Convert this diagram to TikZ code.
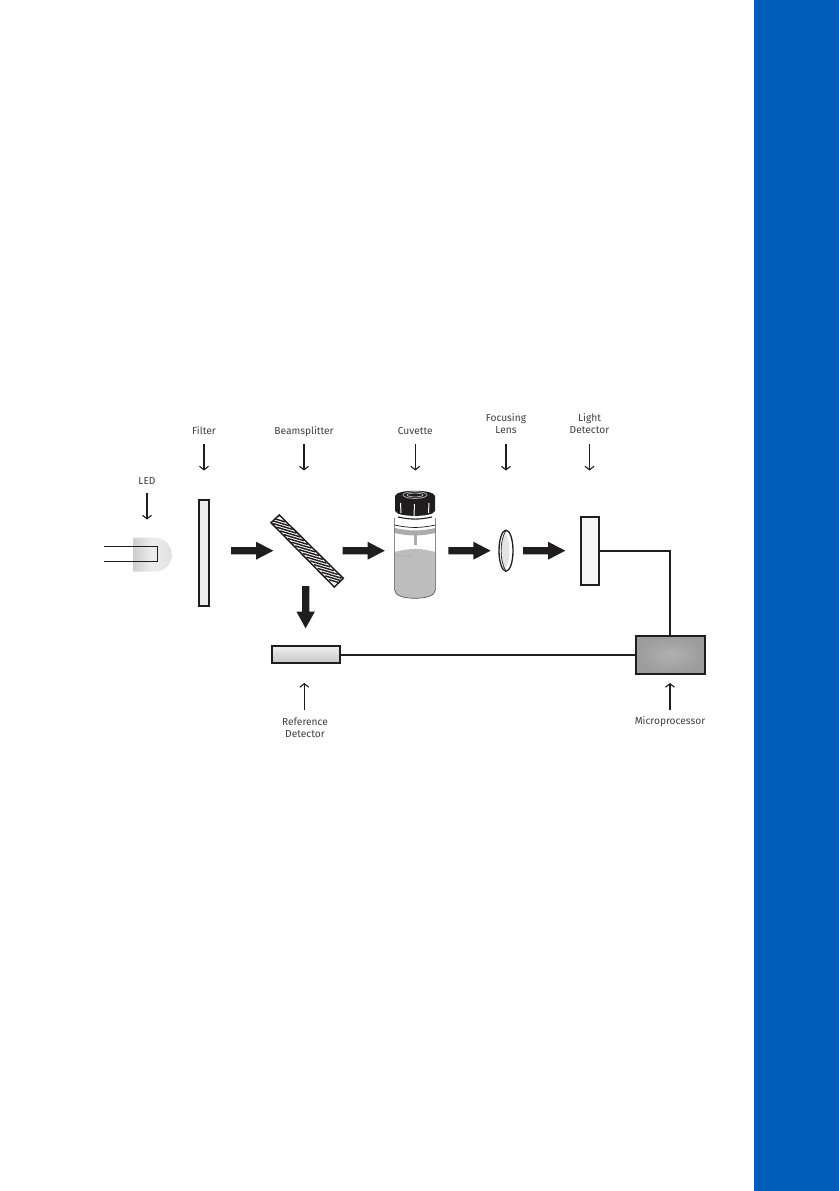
\documentclass[tikz,border=0pt]{standalone}
\usepackage{fontspec}
\setmainfont{Fira Sans}
\usetikzlibrary{arrows.meta}
\definecolor{sidebar}{HTML}{005EB8}
\definecolor{ink}{HTML}{1F1D1E}
\tikzset{
  x=1pt,y=-1pt,
  lab/.style={font=\fontsize{10.2}{12}\selectfont,text=ink!85,align=center,inner sep=0pt},
  pointer/.style={draw=ink,line width=1.1pt,-{Straight Barb[length=3.5pt,width=9pt,line width=1.1pt]}},
  wire/.style={draw=ink,line width=1.8pt},
  frame/.style={draw=ink,line width=1.8pt},
}
\newcommand{\blockR}[2]{% start x, y
  \fill[ink] (#1,#2-3.7) -- ++(25,0) -- ++(0,-5.3) -- ++(17.3,9) -- ++(-17.3,9) -- ++(0,-5.3) -- ++(-25,0) -- cycle;}
\begin{document}
\begin{tikzpicture}
\useasboundingbox (0,0) rectangle (839,1191);
\fill[white] (0,0) rectangle (839,1191);
\fill[sidebar] (754,0) rectangle (839,1191);

% labels and pointers
\node[lab] (tLED) at (147,481) {LED};
\node[lab] (tFilter) at (204,430.5) {Filter};
\node[lab] (tBeam) at (304,431.3) {Beamsplitter};
\node[lab] (tCuv) at (415.3,430.5) {Cuvette};
\node[lab] (tLens) at (506,424) {Focusing\\Lens};
\node[lab] (tLight) at (589.5,424) {Light\\Detector};
\node[lab] (tRef) at (305,728) {Reference\\Detector};
\node[lab] (tMicro) at (670,722) {Microprocessor};

\coordinate (aLED) at (147,519.5);
\coordinate (aFilter) at (204,470.5);
\coordinate (aBeam) at (304,470.5);
\coordinate (aCuv) at (415.3,470.5);
\coordinate (aLens) at (506,470.5);
\coordinate (aLight) at (589.5,470.5);
\coordinate (aRef) at (304.3,683);
\coordinate (aMicro) at (670,683);
\draw[pointer] (147,492.5) -- (aLED);
\draw[pointer] (204,444) -- (aFilter);
\draw[pointer] (304,444) -- (aBeam);
\draw[pointer] (415.3,444) -- (aCuv);
\draw[pointer] (506,444) -- (aLens);
\draw[pointer] (589.5,444) -- (aLight);
\draw[pointer] (304.3,709.5) -- (aRef);
\draw[pointer] (670,709.5) -- (aMicro);

% LED
\path[left color=gray!38,right color=gray!24,middle color=gray!14]
  (133.3,537.7) -- (155,537.7) .. controls (164.4,537.7) and (171.7,545.3) .. (171.7,554.7)
  .. controls (171.7,564.1) and (164.4,571.7) .. (155,571.7) -- (133.3,571.7) -- cycle;
\draw[draw=ink,line width=1.2pt] (104,546.7) -- (157.7,546.7) -- (157.7,561.3) -- (104,561.3);

% filter
\node[frame,fill=gray!15,minimum width=10pt,minimum height=105.7pt,inner sep=0pt] (filter) at (204.3,552.8) {};

% beamsplitter
\begin{scope}
\clip (279.3,515) -- (271,522.7) -- (334.3,587) -- (343.3,578.3) -- cycle;
\foreach \k in {0,...,17}{
  \draw[ink,line width=1.4pt] (275.2+\k*3.75-10,518.9+\k*3.75-3) -- ++(20,6);
}
\end{scope}
\draw[frame,line width=1.5pt] (279.3,515) -- (271,522.7) -- (334.3,587) -- (343.3,578.3) -- cycle;

% beams
\blockR{231}{550.7}
\blockR{342.5}{550.7}
\blockR{448.3}{550.7}
\blockR{523}{550.7}
\fill[ink] (302,586) -- (309.3,586) -- (309.3,611.7) -- (314.8,611.7) -- (305.6,628.3) -- (296.5,611.7) -- (302,611.7) -- cycle;

% cuvette
\fill[gray!52!white] (394.6,552) to[out=15,in=165] (435.4,552) -- (435.4,590)
  .. controls (435.4,596) and (425,598.3) .. (415,598.3) .. controls (405,598.3) and (394.6,596) .. (394.6,590) -- cycle;
\fill[gray!65] (394.6,528) to[out=-12,in=192] (435.4,528) -- (435.4,533) to[out=192,in=-12] (394.6,533) -- cycle;
\fill[gray!65] (413.5,532) rectangle (416.5,545);
\draw[gray!60!black,line width=0.6pt] (394.6,518) -- (394.6,590)
  .. controls (394.6,596) and (405,598.3) .. (415,598.3) .. controls (425,598.3) and (435.4,596) .. (435.4,590) -- (435.4,518);
\draw[ink,line width=0.7pt] (394.6,525) to[out=-12,in=192] (435.4,525);
\draw[gray!70,line width=0.5pt] (396,555) to[out=-10,in=180] (412,556);
\draw[ink,line width=1.1pt] (398,517) to[out=-12,in=192] (432,517);
\fill[ink] (395,496) .. controls (396,489) and (434,489) .. (435,496) -- (435,511)
  .. controls (433,517.5) and (397,517.5) .. (395,511) -- cycle;
\draw[gray!75,line width=0.9pt] (415,495) ellipse[x radius=12,y radius=3.4];
\draw[gray!45,line width=0.6pt] (415,495) ellipse[x radius=8,y radius=1.9];
\draw[white,line width=1pt] (400.5,503) -- (401,513);
\draw[white,line width=1pt] (414.5,504) -- (414,516);
\draw[white,line width=1pt] (429,503) -- (428.5,513);

% lens
\draw[draw=ink,fill=white,line width=1.3pt] (506,550.7) ellipse[x radius=7,y radius=20.5];
\fill[gray!22] (505,533) .. controls (511,540) and (511,562) .. (505,568.5) .. controls (500,560) and (500,542) .. (505,533) -- cycle;
\draw[draw=ink,line width=0.7pt] (506,530.5) .. controls (499.5,540) and (499.5,562) .. (506,571);

% detectors and processor
\node[frame,fill=gray!8,minimum width=18.6pt,minimum height=68.6pt,inner sep=0pt] (light) at (590,551) {};
\node[frame,top color=gray!12,bottom color=gray!45,minimum width=68.6pt,minimum height=17.6pt,inner sep=0pt] (ref) at (306,654.5) {};
\node[frame,inner color=gray!62,outer color=gray!78,minimum width=69pt,minimum height=38pt,inner sep=0pt] (micro) at (670.2,654.7) {};

% wires
\coordinate (bend) at (670,550.7);
\draw[wire] (light.east |- bend) -- (bend) -- (micro.north -| bend);
\draw[wire] (ref.east |- 0,655) -- (micro.west |- 0,655);
\end{tikzpicture}
\end{document}
